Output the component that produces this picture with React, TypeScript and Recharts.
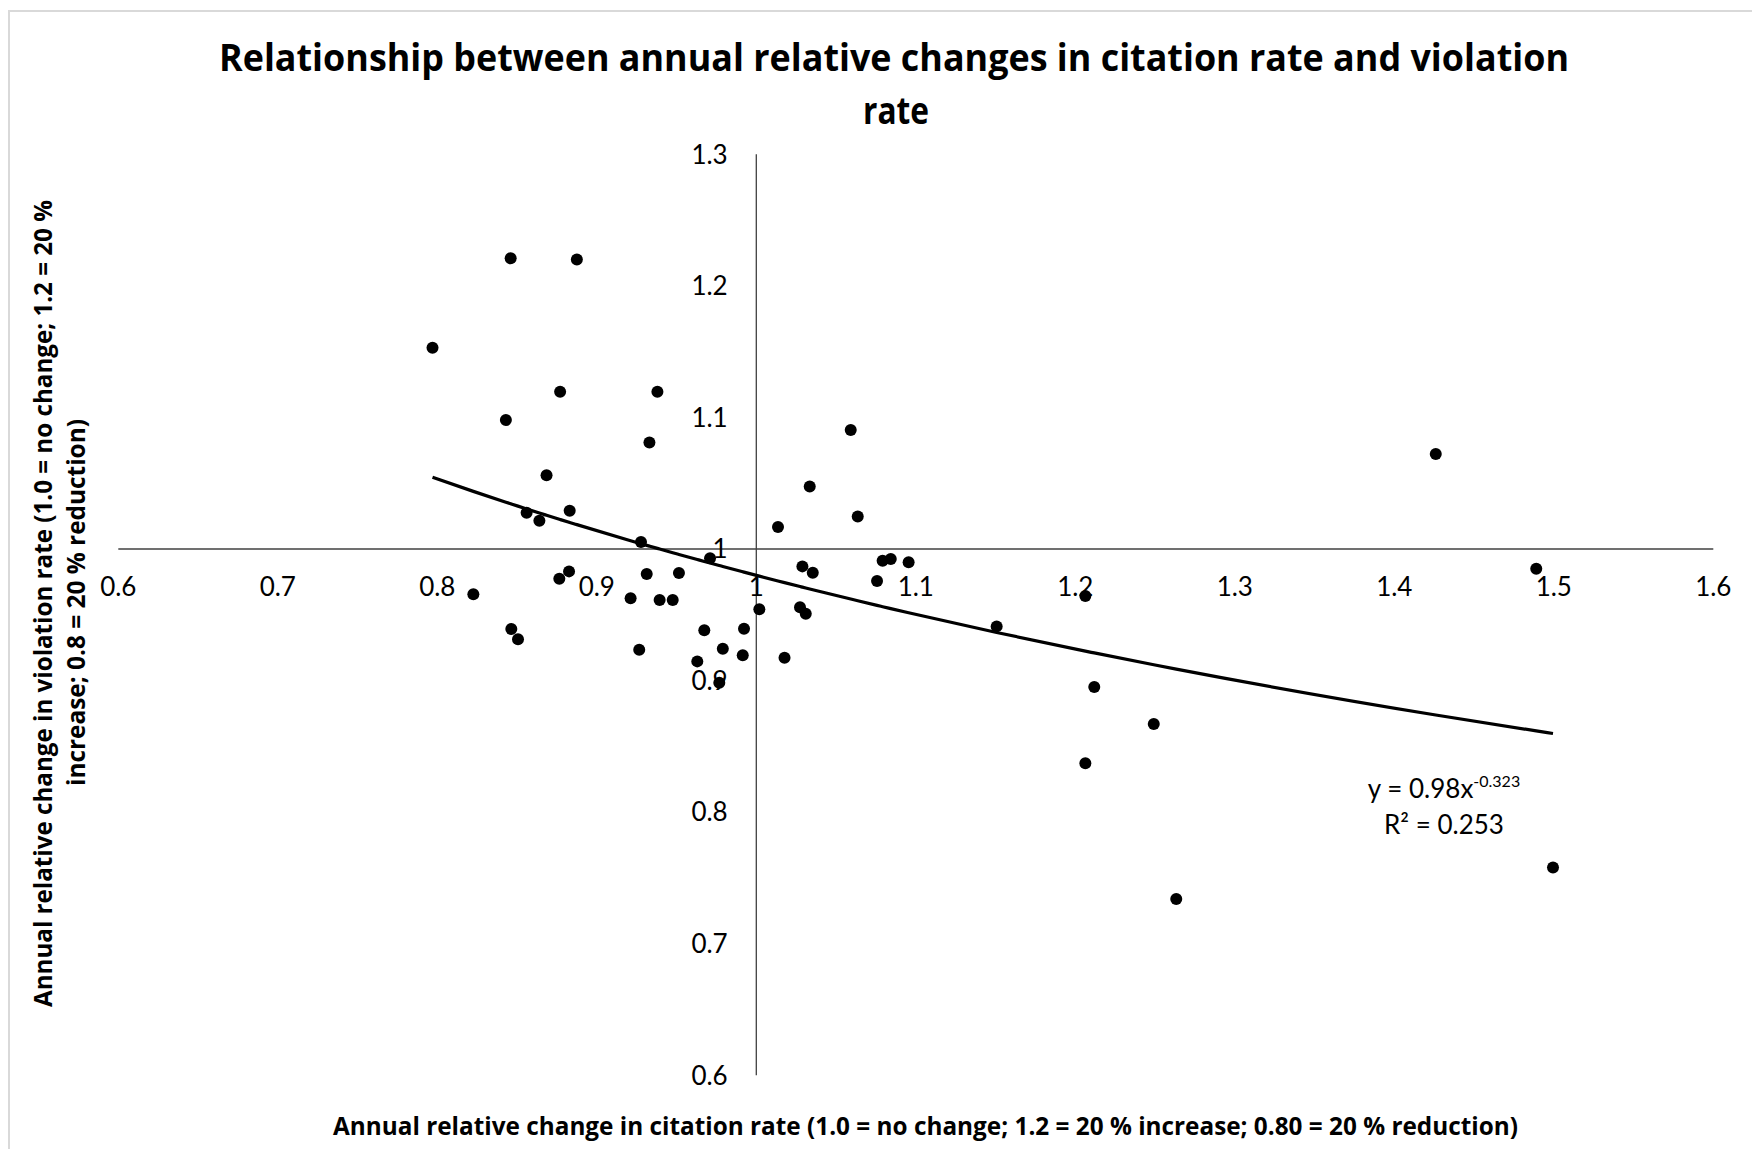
import React from 'react';
import { ComposedChart, Scatter, XAxis, YAxis, ReferenceLine, ReferenceDot } from 'recharts';

// Annual relative change in citation rate (x)
const citationChange = [
  0.797, 0.846, 0.8875, 0.843, 0.877, 0.938, 0.933, 0.8685, 0.856, 0.864,
  0.883, 0.9277, 0.971, 0.8226, 0.8765, 0.8826, 0.9313, 0.9515, 0.9212, 0.9394,
  0.9476, 0.8464, 0.8506, 0.9266, 0.9674, 0.9923, 0.979, 0.963, 0.9915, 0.9768,
  1.0019, 1.0136, 1.0335, 1.0592, 1.0636, 1.0289, 1.0354, 1.0274, 1.031, 1.0177,
  1.0757, 1.0792, 1.0843, 1.0955, 1.1507, 1.2063, 1.2119, 1.2492, 1.2063, 1.2633,
  1.426, 1.489, 1.4995,
];

// Annual relative change in violation rate (y)
const violationChange = [
  1.153, 1.221, 1.22, 1.098, 1.1195, 1.1195, 1.081, 1.056, 1.0276, 1.0215,
  1.029, 1.0053, 0.993, 0.9656, 0.9774, 0.983, 0.981, 0.9818, 0.9625, 0.9612,
  0.9612, 0.9392, 0.9314, 0.9235, 0.9382, 0.9394, 0.9242, 0.9146, 0.9192, 0.8984,
  0.9542, 1.0167, 1.0476, 1.0905, 1.0248, 0.9868, 0.982, 0.9557, 0.9508, 0.9174,
  0.9757, 0.9911, 0.9924, 0.9899, 0.9412, 0.9643, 0.8952, 0.867, 0.8372, 0.734,
  1.0723, 0.985, 0.758,
];

const xTickLabels = ['0.6', '0.7', '0.8', '0.9', '1', '1.1', '1.2', '1.3', '1.4', '1.5', '1.6'];
const yTickLabels = ['0.6', '0.7', '0.8', '0.9', '1', '1.1', '1.2', '1.3'];

// Power trendline shown on the chart: y = 0.98 x^-0.323, R² = 0.253
const trendCoefficient = 0.98;
const trendExponent = -0.323;
const trendR2 = '0.253';

const titleLine1 = 'Relationship between annual relative changes in citation rate and violation';
const titleLine2 = 'rate';
const xTitle = 'Annual relative change in citation rate (1.0 = no change; 1.2 = 20 % increase; 0.80 = 20 % reduction)';
const yTitleLine1 = 'Annual relative change in violation rate (1.0 = no change; 1.2 = 20 %';
const yTitleLine2 = 'increase; 0.8 = 20 % reduction)';

const points = citationChange.map((x, i) => ({ x, y: violationChange[i] }));
const trendData = [...citationChange]
  .sort((a, b) => a - b)
  .map((x) => ({ x, y: trendCoefficient * Math.pow(x, trendExponent) }));

const W = 1744;
const H = 1141;
const FONT = 'Lato, "Open Sans", sans-serif';
const BOLD_FONT = '"Open Sans", Lato, sans-serif';
const AXIS_COLOR = '#404040';

const Dot = (props: any) => {
  const { cx, cy } = props;
  if (cx == null || cy == null) return <g />;
  return <circle cx={cx} cy={cy} r={6} fill="#000" />;
};

const NoShape = () => <g />;

export default function App() {
  return (
    <div style={{ position: 'relative', width: W, height: H, fontFamily: FONT }}>
      <ComposedChart
        width={W}
        height={H}
        margin={{ top: 146.3, right: 38.7, bottom: 73.7, left: 110.3 }}
        style={{ fontFamily: FONT }}
      >
        <XAxis type="number" dataKey="x" domain={[0.6, 1.6]} hide allowDataOverflow />
        <YAxis type="number" dataKey="y" domain={[0.6, 1.3]} hide allowDataOverflow />
        <ReferenceLine x={1} stroke={AXIS_COLOR} strokeWidth={1.3} ifOverflow="visible" />
        <ReferenceLine y={1} stroke={AXIS_COLOR} strokeWidth={1.3} ifOverflow="visible" />
        {xTickLabels.map((t) => (
          <ReferenceDot
            key={'xt' + t}
            x={Number(t)}
            y={1}
            r={0}
            fill="none"
            stroke="none"
            ifOverflow="visible"
            label={{ value: t, position: 'bottom', offset: 28.5, fontSize: 26, fill: '#000', fontFamily: FONT }}
          />
        ))}
        {yTickLabels.map((t) => (
          <ReferenceDot
            key={'yt' + t}
            x={1}
            y={Number(t)}
            r={0}
            fill="none"
            stroke="none"
            ifOverflow="visible"
            label={{ value: t, position: 'left', offset: 28.6, fontSize: 26, fill: '#000', fontFamily: FONT }}
          />
        ))}
        <Scatter data={points} dataKey="y" shape={Dot} isAnimationActive={false} />
        <Scatter
          data={trendData}
          dataKey="y"
          shape={NoShape}
          line={{ stroke: '#000', strokeWidth: 3.2, fill: 'none' }}
          lineJointType="monotoneX"
          isAnimationActive={false}
        />
      </ComposedChart>
      <svg
        width={W}
        height={H}
        style={{ position: 'absolute', left: 0, top: 0, pointerEvents: 'none', fontFamily: BOLD_FONT }}
      >
        <line x1={0} y1={3} x2={W} y2={3} stroke="#d9d9d9" strokeWidth={2} />
        <line x1={1} y1={2} x2={1} y2={H} stroke="#d9d9d9" strokeWidth={2} />
        <text x={886} y={63} textAnchor="middle" fontSize={37} fontWeight="bold" fill="#000"
          textLength={1350} lengthAdjust="spacingAndGlyphs">{titleLine1}</text>
        <text x={888} y={115.5} textAnchor="middle" fontSize={37} fontWeight="bold" fill="#000"
          textLength={66} lengthAdjust="spacingAndGlyphs">{titleLine2}</text>
        <text x={917.5} y={1127} textAnchor="middle" fontSize={25} fontWeight="bold" fill="#000"
          textLength={1185} lengthAdjust="spacingAndGlyphs">{xTitle}</text>
        <text transform="translate(44,595.5) rotate(-90)" textAnchor="middle" fontSize={25} fontWeight="bold" fill="#000"
          textLength={807} lengthAdjust="spacingAndGlyphs">{yTitleLine1}</text>
        <text transform="translate(77,594.5) rotate(-90)" textAnchor="middle" fontSize={25} fontWeight="bold" fill="#000"
          textLength={367} lengthAdjust="spacingAndGlyphs">{yTitleLine2}</text>
        <text x={1436} y={790} textAnchor="middle" fontSize={26} fill="#000" fontFamily={FONT}>
          y = {trendCoefficient}x<tspan dy={-11} fontSize={16}>{String(trendExponent)}</tspan>
        </text>
        <text x={1436} y={826} textAnchor="middle" fontSize={26} fill="#000" fontFamily={FONT}>R² = {trendR2}</text>
      </svg>
    </div>
  );
}
